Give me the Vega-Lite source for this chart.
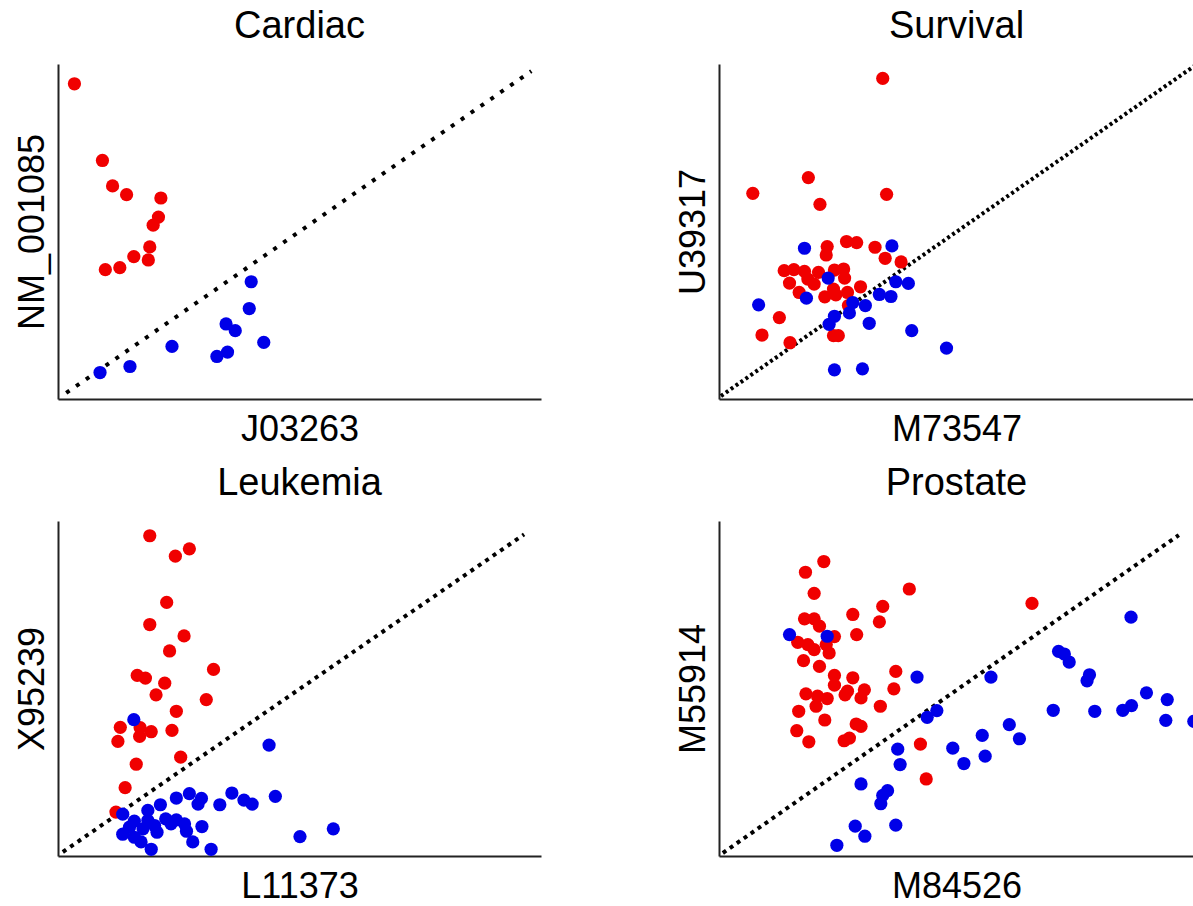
{
  "$schema": "https://vega.github.io/schema/vega-lite/v6.json",
  "background": "white",
  "padding": {"left": 14, "top": 8, "right": 0, "bottom": 0},
  "bounds": "flush",
  "spacing": {"row": 122, "column": 178},
  "columns": 2,
  "config": {
    "view": {"stroke": null},
    "font": "Liberation Sans",
    "axis": {"grid": false, "ticks": false, "labels": false, "domainColor": "#222222", "domainWidth": 2, "titleFontSize": 36, "titleFontWeight": "normal", "titleColor": "black", "titleFont": "Liberation Sans"},
    "axisX": {"titlePadding": 13},
    "axisY": {"titlePadding": 7},
    "title": {"fontSize": 38, "fontWeight": "normal", "font": "Liberation Sans", "color": "black", "offset": 18}
  },
  "datasets": {
    "diag": [
      {"panel": "Cardiac", "x0": 1.7, "y0": 1.8, "x1": 98.0, "y1": 97.9},
      {"panel": "Survival", "x0": 0.4, "y0": 0.9, "x1": 99.0, "y1": 100.0},
      {"panel": "Leukemia", "x0": 1.0, "y0": 1.2, "x1": 96.5, "y1": 96.0},
      {"panel": "Prostate", "x0": 0.8, "y0": 0.9, "x1": 95.2, "y1": 95.8}
    ],
    "points": [
      {"panel": "Cardiac", "class": "red", "x": 3.4, "y": 94.1},
      {"panel": "Cardiac", "class": "red", "x": 9.2, "y": 71.2},
      {"panel": "Cardiac", "class": "red", "x": 11.3, "y": 63.6},
      {"panel": "Cardiac", "class": "red", "x": 14.2, "y": 61.0},
      {"panel": "Cardiac", "class": "red", "x": 21.3, "y": 60.0},
      {"panel": "Cardiac", "class": "red", "x": 20.8, "y": 54.3},
      {"panel": "Cardiac", "class": "red", "x": 19.7, "y": 51.9},
      {"panel": "Cardiac", "class": "red", "x": 19.0, "y": 45.4},
      {"panel": "Cardiac", "class": "red", "x": 15.7, "y": 42.5},
      {"panel": "Cardiac", "class": "red", "x": 18.7, "y": 41.5},
      {"panel": "Cardiac", "class": "red", "x": 12.8, "y": 39.2},
      {"panel": "Cardiac", "class": "red", "x": 9.8, "y": 38.6},
      {"panel": "Cardiac", "class": "blue", "x": 40.0, "y": 35.0},
      {"panel": "Cardiac", "class": "blue", "x": 39.6, "y": 27.0},
      {"panel": "Cardiac", "class": "blue", "x": 34.8, "y": 22.4},
      {"panel": "Cardiac", "class": "blue", "x": 36.7, "y": 20.4},
      {"panel": "Cardiac", "class": "blue", "x": 42.6, "y": 16.9},
      {"panel": "Cardiac", "class": "blue", "x": 23.6, "y": 15.7},
      {"panel": "Cardiac", "class": "blue", "x": 35.1, "y": 14.0},
      {"panel": "Cardiac", "class": "blue", "x": 32.9, "y": 12.7},
      {"panel": "Cardiac", "class": "blue", "x": 14.9, "y": 9.7},
      {"panel": "Cardiac", "class": "blue", "x": 8.7, "y": 7.9},

      {"panel": "Survival", "class": "red", "x": 33.9, "y": 95.7},
      {"panel": "Survival", "class": "red", "x": 18.5, "y": 66.1},
      {"panel": "Survival", "class": "red", "x": 7.0, "y": 61.4},
      {"panel": "Survival", "class": "red", "x": 34.7, "y": 61.1},
      {"panel": "Survival", "class": "red", "x": 20.9, "y": 58.1},
      {"panel": "Survival", "class": "red", "x": 26.4, "y": 47.0},
      {"panel": "Survival", "class": "red", "x": 28.5, "y": 46.7},
      {"panel": "Survival", "class": "red", "x": 22.4, "y": 45.5},
      {"panel": "Survival", "class": "red", "x": 32.3, "y": 45.3},
      {"panel": "Survival", "class": "red", "x": 22.2, "y": 43.0},
      {"panel": "Survival", "class": "red", "x": 34.4, "y": 42.0},
      {"panel": "Survival", "class": "red", "x": 37.7, "y": 40.9},
      {"panel": "Survival", "class": "red", "x": 13.5, "y": 38.3},
      {"panel": "Survival", "class": "red", "x": 15.5, "y": 38.6},
      {"panel": "Survival", "class": "red", "x": 17.7, "y": 38.1},
      {"panel": "Survival", "class": "red", "x": 20.6, "y": 37.8},
      {"panel": "Survival", "class": "red", "x": 23.9, "y": 38.5},
      {"panel": "Survival", "class": "red", "x": 25.8, "y": 38.8},
      {"panel": "Survival", "class": "red", "x": 14.6, "y": 34.6},
      {"panel": "Survival", "class": "red", "x": 18.4, "y": 35.8},
      {"panel": "Survival", "class": "red", "x": 19.7, "y": 34.3},
      {"panel": "Survival", "class": "red", "x": 26.0, "y": 36.1},
      {"panel": "Survival", "class": "red", "x": 16.6, "y": 31.8},
      {"panel": "Survival", "class": "red", "x": 23.7, "y": 32.8},
      {"panel": "Survival", "class": "red", "x": 21.9, "y": 30.5},
      {"panel": "Survival", "class": "red", "x": 24.2, "y": 31.1},
      {"panel": "Survival", "class": "red", "x": 26.6, "y": 31.8},
      {"panel": "Survival", "class": "red", "x": 29.3, "y": 33.5},
      {"panel": "Survival", "class": "red", "x": 26.8, "y": 27.9},
      {"panel": "Survival", "class": "red", "x": 12.5, "y": 24.3},
      {"panel": "Survival", "class": "red", "x": 8.9, "y": 19.1},
      {"panel": "Survival", "class": "red", "x": 23.7, "y": 18.9},
      {"panel": "Survival", "class": "red", "x": 24.7, "y": 18.9},
      {"panel": "Survival", "class": "red", "x": 14.7, "y": 16.8},
      {"panel": "Survival", "class": "blue", "x": 17.7, "y": 45.0},
      {"panel": "Survival", "class": "blue", "x": 35.8, "y": 45.7},
      {"panel": "Survival", "class": "blue", "x": 22.6, "y": 36.1},
      {"panel": "Survival", "class": "blue", "x": 36.6, "y": 35.0},
      {"panel": "Survival", "class": "blue", "x": 39.2, "y": 34.5},
      {"panel": "Survival", "class": "blue", "x": 18.1, "y": 30.1},
      {"panel": "Survival", "class": "blue", "x": 33.2, "y": 31.2},
      {"panel": "Survival", "class": "blue", "x": 35.6, "y": 30.6},
      {"panel": "Survival", "class": "blue", "x": 27.7, "y": 28.8},
      {"panel": "Survival", "class": "blue", "x": 30.3, "y": 27.9},
      {"panel": "Survival", "class": "blue", "x": 8.2, "y": 28.1},
      {"panel": "Survival", "class": "blue", "x": 27.0, "y": 25.7},
      {"panel": "Survival", "class": "blue", "x": 23.9, "y": 24.7},
      {"panel": "Survival", "class": "blue", "x": 22.8, "y": 22.3},
      {"panel": "Survival", "class": "blue", "x": 31.1, "y": 22.6},
      {"panel": "Survival", "class": "blue", "x": 39.9, "y": 20.4},
      {"panel": "Survival", "class": "blue", "x": 47.1, "y": 15.2},
      {"panel": "Survival", "class": "blue", "x": 23.9, "y": 8.7},
      {"panel": "Survival", "class": "blue", "x": 29.7, "y": 9.0},

      {"panel": "Leukemia", "class": "red", "x": 19.0, "y": 95.6},
      {"panel": "Leukemia", "class": "red", "x": 24.3, "y": 89.5},
      {"panel": "Leukemia", "class": "red", "x": 27.2, "y": 91.7},
      {"panel": "Leukemia", "class": "red", "x": 22.5, "y": 75.7},
      {"panel": "Leukemia", "class": "red", "x": 19.0, "y": 69.1},
      {"panel": "Leukemia", "class": "red", "x": 26.1, "y": 65.7},
      {"panel": "Leukemia", "class": "red", "x": 23.1, "y": 61.2},
      {"panel": "Leukemia", "class": "red", "x": 32.2, "y": 55.7},
      {"panel": "Leukemia", "class": "red", "x": 16.4, "y": 53.9},
      {"panel": "Leukemia", "class": "red", "x": 18.1, "y": 53.1},
      {"panel": "Leukemia", "class": "red", "x": 22.1, "y": 51.6},
      {"panel": "Leukemia", "class": "red", "x": 20.3, "y": 48.1},
      {"panel": "Leukemia", "class": "red", "x": 30.7, "y": 46.7},
      {"panel": "Leukemia", "class": "red", "x": 24.5, "y": 43.2},
      {"panel": "Leukemia", "class": "red", "x": 12.9, "y": 38.4},
      {"panel": "Leukemia", "class": "red", "x": 17.0, "y": 38.3},
      {"panel": "Leukemia", "class": "red", "x": 19.3, "y": 37.1},
      {"panel": "Leukemia", "class": "red", "x": 23.6, "y": 37.5},
      {"panel": "Leukemia", "class": "red", "x": 16.9, "y": 35.7},
      {"panel": "Leukemia", "class": "red", "x": 12.4, "y": 34.2},
      {"panel": "Leukemia", "class": "red", "x": 25.4, "y": 29.5},
      {"panel": "Leukemia", "class": "red", "x": 16.2, "y": 27.4},
      {"panel": "Leukemia", "class": "red", "x": 13.9, "y": 20.4},
      {"panel": "Leukemia", "class": "red", "x": 12.0, "y": 13.1},
      {"panel": "Leukemia", "class": "blue", "x": 15.7, "y": 40.7},
      {"panel": "Leukemia", "class": "blue", "x": 43.7, "y": 33.1},
      {"panel": "Leukemia", "class": "blue", "x": 24.5, "y": 17.3},
      {"panel": "Leukemia", "class": "blue", "x": 27.2, "y": 18.6},
      {"panel": "Leukemia", "class": "blue", "x": 29.7, "y": 17.2},
      {"panel": "Leukemia", "class": "blue", "x": 29.0, "y": 15.5},
      {"panel": "Leukemia", "class": "blue", "x": 33.5, "y": 15.3},
      {"panel": "Leukemia", "class": "blue", "x": 36.0, "y": 18.8},
      {"panel": "Leukemia", "class": "blue", "x": 38.5, "y": 16.7},
      {"panel": "Leukemia", "class": "blue", "x": 40.2, "y": 15.5},
      {"panel": "Leukemia", "class": "blue", "x": 45.0, "y": 17.8},
      {"panel": "Leukemia", "class": "blue", "x": 13.4, "y": 12.5},
      {"panel": "Leukemia", "class": "blue", "x": 18.6, "y": 13.6},
      {"panel": "Leukemia", "class": "blue", "x": 21.2, "y": 15.3},
      {"panel": "Leukemia", "class": "blue", "x": 15.8, "y": 10.4},
      {"panel": "Leukemia", "class": "blue", "x": 18.6, "y": 10.6},
      {"panel": "Leukemia", "class": "blue", "x": 22.3, "y": 11.1},
      {"panel": "Leukemia", "class": "blue", "x": 24.5, "y": 10.8},
      {"panel": "Leukemia", "class": "blue", "x": 26.2, "y": 9.6},
      {"panel": "Leukemia", "class": "blue", "x": 29.8, "y": 8.8},
      {"panel": "Leukemia", "class": "blue", "x": 13.4, "y": 6.5},
      {"panel": "Leukemia", "class": "blue", "x": 15.8, "y": 5.6},
      {"panel": "Leukemia", "class": "blue", "x": 17.6, "y": 8.1},
      {"panel": "Leukemia", "class": "blue", "x": 20.5, "y": 7.1},
      {"panel": "Leukemia", "class": "blue", "x": 26.6, "y": 7.4},
      {"panel": "Leukemia", "class": "blue", "x": 17.2, "y": 4.2},
      {"panel": "Leukemia", "class": "blue", "x": 19.3, "y": 2.0},
      {"panel": "Leukemia", "class": "blue", "x": 27.9, "y": 4.2},
      {"panel": "Leukemia", "class": "blue", "x": 31.7, "y": 2.0},
      {"panel": "Leukemia", "class": "blue", "x": 50.1, "y": 5.8},
      {"panel": "Leukemia", "class": "blue", "x": 57.0, "y": 8.1},
      {"panel": "Leukemia", "class": "blue", "x": 14.8, "y": 8.6},
      {"panel": "Leukemia", "class": "blue", "x": 20.0, "y": 9.1},
      {"panel": "Leukemia", "class": "blue", "x": 23.4, "y": 9.6},

      {"panel": "Prostate", "class": "red", "x": 21.7, "y": 87.9},
      {"panel": "Prostate", "class": "red", "x": 17.9, "y": 84.7},
      {"panel": "Prostate", "class": "red", "x": 39.4, "y": 79.7},
      {"panel": "Prostate", "class": "red", "x": 19.7, "y": 78.4},
      {"panel": "Prostate", "class": "red", "x": 64.8, "y": 75.4},
      {"panel": "Prostate", "class": "red", "x": 33.9, "y": 74.5},
      {"panel": "Prostate", "class": "red", "x": 27.7, "y": 72.1},
      {"panel": "Prostate", "class": "red", "x": 17.7, "y": 70.8},
      {"panel": "Prostate", "class": "red", "x": 19.7, "y": 70.8},
      {"panel": "Prostate", "class": "red", "x": 33.2, "y": 69.9},
      {"panel": "Prostate", "class": "red", "x": 20.8, "y": 68.6},
      {"panel": "Prostate", "class": "red", "x": 28.5, "y": 66.1},
      {"panel": "Prostate", "class": "red", "x": 23.9, "y": 65.5},
      {"panel": "Prostate", "class": "red", "x": 16.3, "y": 63.8},
      {"panel": "Prostate", "class": "red", "x": 18.4, "y": 63.1},
      {"panel": "Prostate", "class": "red", "x": 22.2, "y": 63.1},
      {"panel": "Prostate", "class": "red", "x": 19.7, "y": 61.6},
      {"panel": "Prostate", "class": "red", "x": 22.8, "y": 60.6},
      {"panel": "Prostate", "class": "red", "x": 17.5, "y": 58.3},
      {"panel": "Prostate", "class": "red", "x": 20.8, "y": 56.6},
      {"panel": "Prostate", "class": "red", "x": 36.6, "y": 55.1},
      {"panel": "Prostate", "class": "red", "x": 23.9, "y": 53.9},
      {"panel": "Prostate", "class": "red", "x": 27.7, "y": 53.2},
      {"panel": "Prostate", "class": "red", "x": 23.9, "y": 51.0},
      {"panel": "Prostate", "class": "red", "x": 36.2, "y": 49.9},
      {"panel": "Prostate", "class": "red", "x": 30.1, "y": 49.6},
      {"panel": "Prostate", "class": "red", "x": 26.6, "y": 49.2},
      {"panel": "Prostate", "class": "red", "x": 18.0, "y": 48.4},
      {"panel": "Prostate", "class": "red", "x": 26.1, "y": 48.1},
      {"panel": "Prostate", "class": "red", "x": 20.4, "y": 47.7},
      {"panel": "Prostate", "class": "red", "x": 22.4, "y": 47.0},
      {"panel": "Prostate", "class": "red", "x": 29.4, "y": 47.2},
      {"panel": "Prostate", "class": "red", "x": 20.1, "y": 44.7},
      {"panel": "Prostate", "class": "red", "x": 33.4, "y": 44.7},
      {"panel": "Prostate", "class": "red", "x": 16.5, "y": 43.2},
      {"panel": "Prostate", "class": "red", "x": 21.9, "y": 40.6},
      {"panel": "Prostate", "class": "red", "x": 28.4, "y": 39.4},
      {"panel": "Prostate", "class": "red", "x": 29.4, "y": 38.7},
      {"panel": "Prostate", "class": "red", "x": 16.1, "y": 37.4},
      {"panel": "Prostate", "class": "red", "x": 18.6, "y": 34.1},
      {"panel": "Prostate", "class": "red", "x": 25.9, "y": 34.4},
      {"panel": "Prostate", "class": "red", "x": 27.0, "y": 35.2},
      {"panel": "Prostate", "class": "red", "x": 41.7, "y": 33.4},
      {"panel": "Prostate", "class": "red", "x": 42.9, "y": 23.0},
      {"panel": "Prostate", "class": "blue", "x": 14.6, "y": 66.1},
      {"panel": "Prostate", "class": "blue", "x": 22.4, "y": 65.6},
      {"panel": "Prostate", "class": "blue", "x": 85.3, "y": 71.3},
      {"panel": "Prostate", "class": "blue", "x": 70.3, "y": 61.1},
      {"panel": "Prostate", "class": "blue", "x": 71.5, "y": 60.3},
      {"panel": "Prostate", "class": "blue", "x": 72.5, "y": 57.9},
      {"panel": "Prostate", "class": "blue", "x": 41.0, "y": 53.4},
      {"panel": "Prostate", "class": "blue", "x": 56.3, "y": 53.4},
      {"panel": "Prostate", "class": "blue", "x": 76.7, "y": 54.1},
      {"panel": "Prostate", "class": "blue", "x": 76.2, "y": 52.3},
      {"panel": "Prostate", "class": "blue", "x": 88.5, "y": 48.7},
      {"panel": "Prostate", "class": "blue", "x": 92.8, "y": 46.7},
      {"panel": "Prostate", "class": "blue", "x": 85.4, "y": 44.9},
      {"panel": "Prostate", "class": "blue", "x": 83.6, "y": 43.5},
      {"panel": "Prostate", "class": "blue", "x": 69.2, "y": 43.5},
      {"panel": "Prostate", "class": "blue", "x": 77.8, "y": 43.2},
      {"panel": "Prostate", "class": "blue", "x": 92.5, "y": 40.5},
      {"panel": "Prostate", "class": "blue", "x": 98.3, "y": 40.2},
      {"panel": "Prostate", "class": "blue", "x": 45.1, "y": 43.4},
      {"panel": "Prostate", "class": "blue", "x": 43.1, "y": 41.4},
      {"panel": "Prostate", "class": "blue", "x": 60.1, "y": 39.2},
      {"panel": "Prostate", "class": "blue", "x": 54.5, "y": 36.0},
      {"panel": "Prostate", "class": "blue", "x": 62.2, "y": 35.0},
      {"panel": "Prostate", "class": "blue", "x": 37.0, "y": 31.9},
      {"panel": "Prostate", "class": "blue", "x": 48.4, "y": 32.2},
      {"panel": "Prostate", "class": "blue", "x": 55.1, "y": 29.8},
      {"panel": "Prostate", "class": "blue", "x": 37.5, "y": 27.3},
      {"panel": "Prostate", "class": "blue", "x": 50.7, "y": 27.6},
      {"panel": "Prostate", "class": "blue", "x": 29.4, "y": 21.5},
      {"panel": "Prostate", "class": "blue", "x": 34.9, "y": 19.5},
      {"panel": "Prostate", "class": "blue", "x": 33.9, "y": 18.1},
      {"panel": "Prostate", "class": "blue", "x": 33.5, "y": 15.6},
      {"panel": "Prostate", "class": "blue", "x": 36.6, "y": 9.2},
      {"panel": "Prostate", "class": "blue", "x": 28.2, "y": 8.9},
      {"panel": "Prostate", "class": "blue", "x": 30.2, "y": 5.9},
      {"panel": "Prostate", "class": "blue", "x": 24.4, "y": 3.2}
    ]
  },
  "concat": [
    {
      "width": 483, "height": 335,
      "title": "Cardiac",
      "layer": [
        {
          "data": {"name": "diag"},
          "transform": [{"filter": "datum.panel === 'Cardiac'"}],
          "mark": {"type": "rule", "color": "black", "strokeWidth": 4, "strokeDash": [4, 8]},
          "encoding": {
            "x": {"field": "x0", "type": "quantitative", "scale": {"domain": [0, 100]}, "axis": {"title": "J03263"}},
            "y": {"field": "y0", "type": "quantitative", "scale": {"domain": [0, 100]}, "axis": {"title": "NM_001085"}},
            "x2": {"field": "x1"},
            "y2": {"field": "y1"}
          }
        },
        {
          "data": {"name": "points"},
          "transform": [{"filter": "datum.panel === 'Cardiac'"}],
          "mark": {"type": "circle", "size": 175, "opacity": 1},
          "encoding": {
            "x": {"field": "x", "type": "quantitative", "scale": {"domain": [0, 100]}, "axis": {"title": "J03263"}},
            "y": {"field": "y", "type": "quantitative", "scale": {"domain": [0, 100]}, "axis": {"title": "NM_001085"}},
            "color": {"field": "class", "type": "nominal", "scale": {"domain": ["red", "blue"], "range": ["#f00000", "#0000e8"]}, "legend": null}
          }
        }
      ]
    },
    {
      "width": 475, "height": 335,
      "title": "Survival",
      "layer": [
        {
          "data": {"name": "diag"},
          "transform": [{"filter": "datum.panel === 'Survival'"}],
          "mark": {"type": "rule", "color": "black", "strokeWidth": 4, "strokeDash": [3, 3], "clip": true},
          "encoding": {
            "x": {"field": "x0", "type": "quantitative", "scale": {"domain": [0, 98.34]}, "axis": {"title": "M73547"}},
            "y": {"field": "y0", "type": "quantitative", "scale": {"domain": [0, 100]}, "axis": {"title": "U39317"}},
            "x2": {"field": "x1"},
            "y2": {"field": "y1"}
          }
        },
        {
          "data": {"name": "points"},
          "transform": [{"filter": "datum.panel === 'Survival'"}],
          "mark": {"type": "circle", "size": 175, "opacity": 1, "clip": true},
          "encoding": {
            "x": {"field": "x", "type": "quantitative", "scale": {"domain": [0, 98.34]}, "axis": {"title": "M73547"}},
            "y": {"field": "y", "type": "quantitative", "scale": {"domain": [0, 100]}, "axis": {"title": "U39317"}},
            "color": {"field": "class", "type": "nominal", "scale": {"domain": ["red", "blue"], "range": ["#f00000", "#0000e8"]}, "legend": null}
          }
        }
      ]
    },
    {
      "width": 483, "height": 335,
      "title": "Leukemia",
      "layer": [
        {
          "data": {"name": "diag"},
          "transform": [{"filter": "datum.panel === 'Leukemia'"}],
          "mark": {"type": "rule", "color": "black", "strokeWidth": 4, "strokeDash": [4, 5]},
          "encoding": {
            "x": {"field": "x0", "type": "quantitative", "scale": {"domain": [0, 100]}, "axis": {"title": "L11373"}},
            "y": {"field": "y0", "type": "quantitative", "scale": {"domain": [0, 100]}, "axis": {"title": "X95239"}},
            "x2": {"field": "x1"},
            "y2": {"field": "y1"}
          }
        },
        {
          "data": {"name": "points"},
          "transform": [{"filter": "datum.panel === 'Leukemia'"}],
          "mark": {"type": "circle", "size": 175, "opacity": 1},
          "encoding": {
            "x": {"field": "x", "type": "quantitative", "scale": {"domain": [0, 100]}, "axis": {"title": "L11373"}},
            "y": {"field": "y", "type": "quantitative", "scale": {"domain": [0, 100]}, "axis": {"title": "X95239"}},
            "color": {"field": "class", "type": "nominal", "scale": {"domain": ["red", "blue"], "range": ["#f00000", "#0000e8"]}, "legend": null}
          }
        }
      ]
    },
    {
      "width": 475, "height": 335,
      "title": "Prostate",
      "layer": [
        {
          "data": {"name": "diag"},
          "transform": [{"filter": "datum.panel === 'Prostate'"}],
          "mark": {"type": "rule", "color": "black", "strokeWidth": 4, "strokeDash": [4, 4.5], "clip": true},
          "encoding": {
            "x": {"field": "x0", "type": "quantitative", "scale": {"domain": [0, 98.34]}, "axis": {"title": "M84526"}},
            "y": {"field": "y0", "type": "quantitative", "scale": {"domain": [0, 100]}, "axis": {"title": "M55914"}},
            "x2": {"field": "x1"},
            "y2": {"field": "y1"}
          }
        },
        {
          "data": {"name": "points"},
          "transform": [{"filter": "datum.panel === 'Prostate'"}],
          "mark": {"type": "circle", "size": 175, "opacity": 1, "clip": true},
          "encoding": {
            "x": {"field": "x", "type": "quantitative", "scale": {"domain": [0, 98.34]}, "axis": {"title": "M84526"}},
            "y": {"field": "y", "type": "quantitative", "scale": {"domain": [0, 100]}, "axis": {"title": "M55914"}},
            "color": {"field": "class", "type": "nominal", "scale": {"domain": ["red", "blue"], "range": ["#f00000", "#0000e8"]}, "legend": null}
          }
        }
      ]
    }
  ]
}
